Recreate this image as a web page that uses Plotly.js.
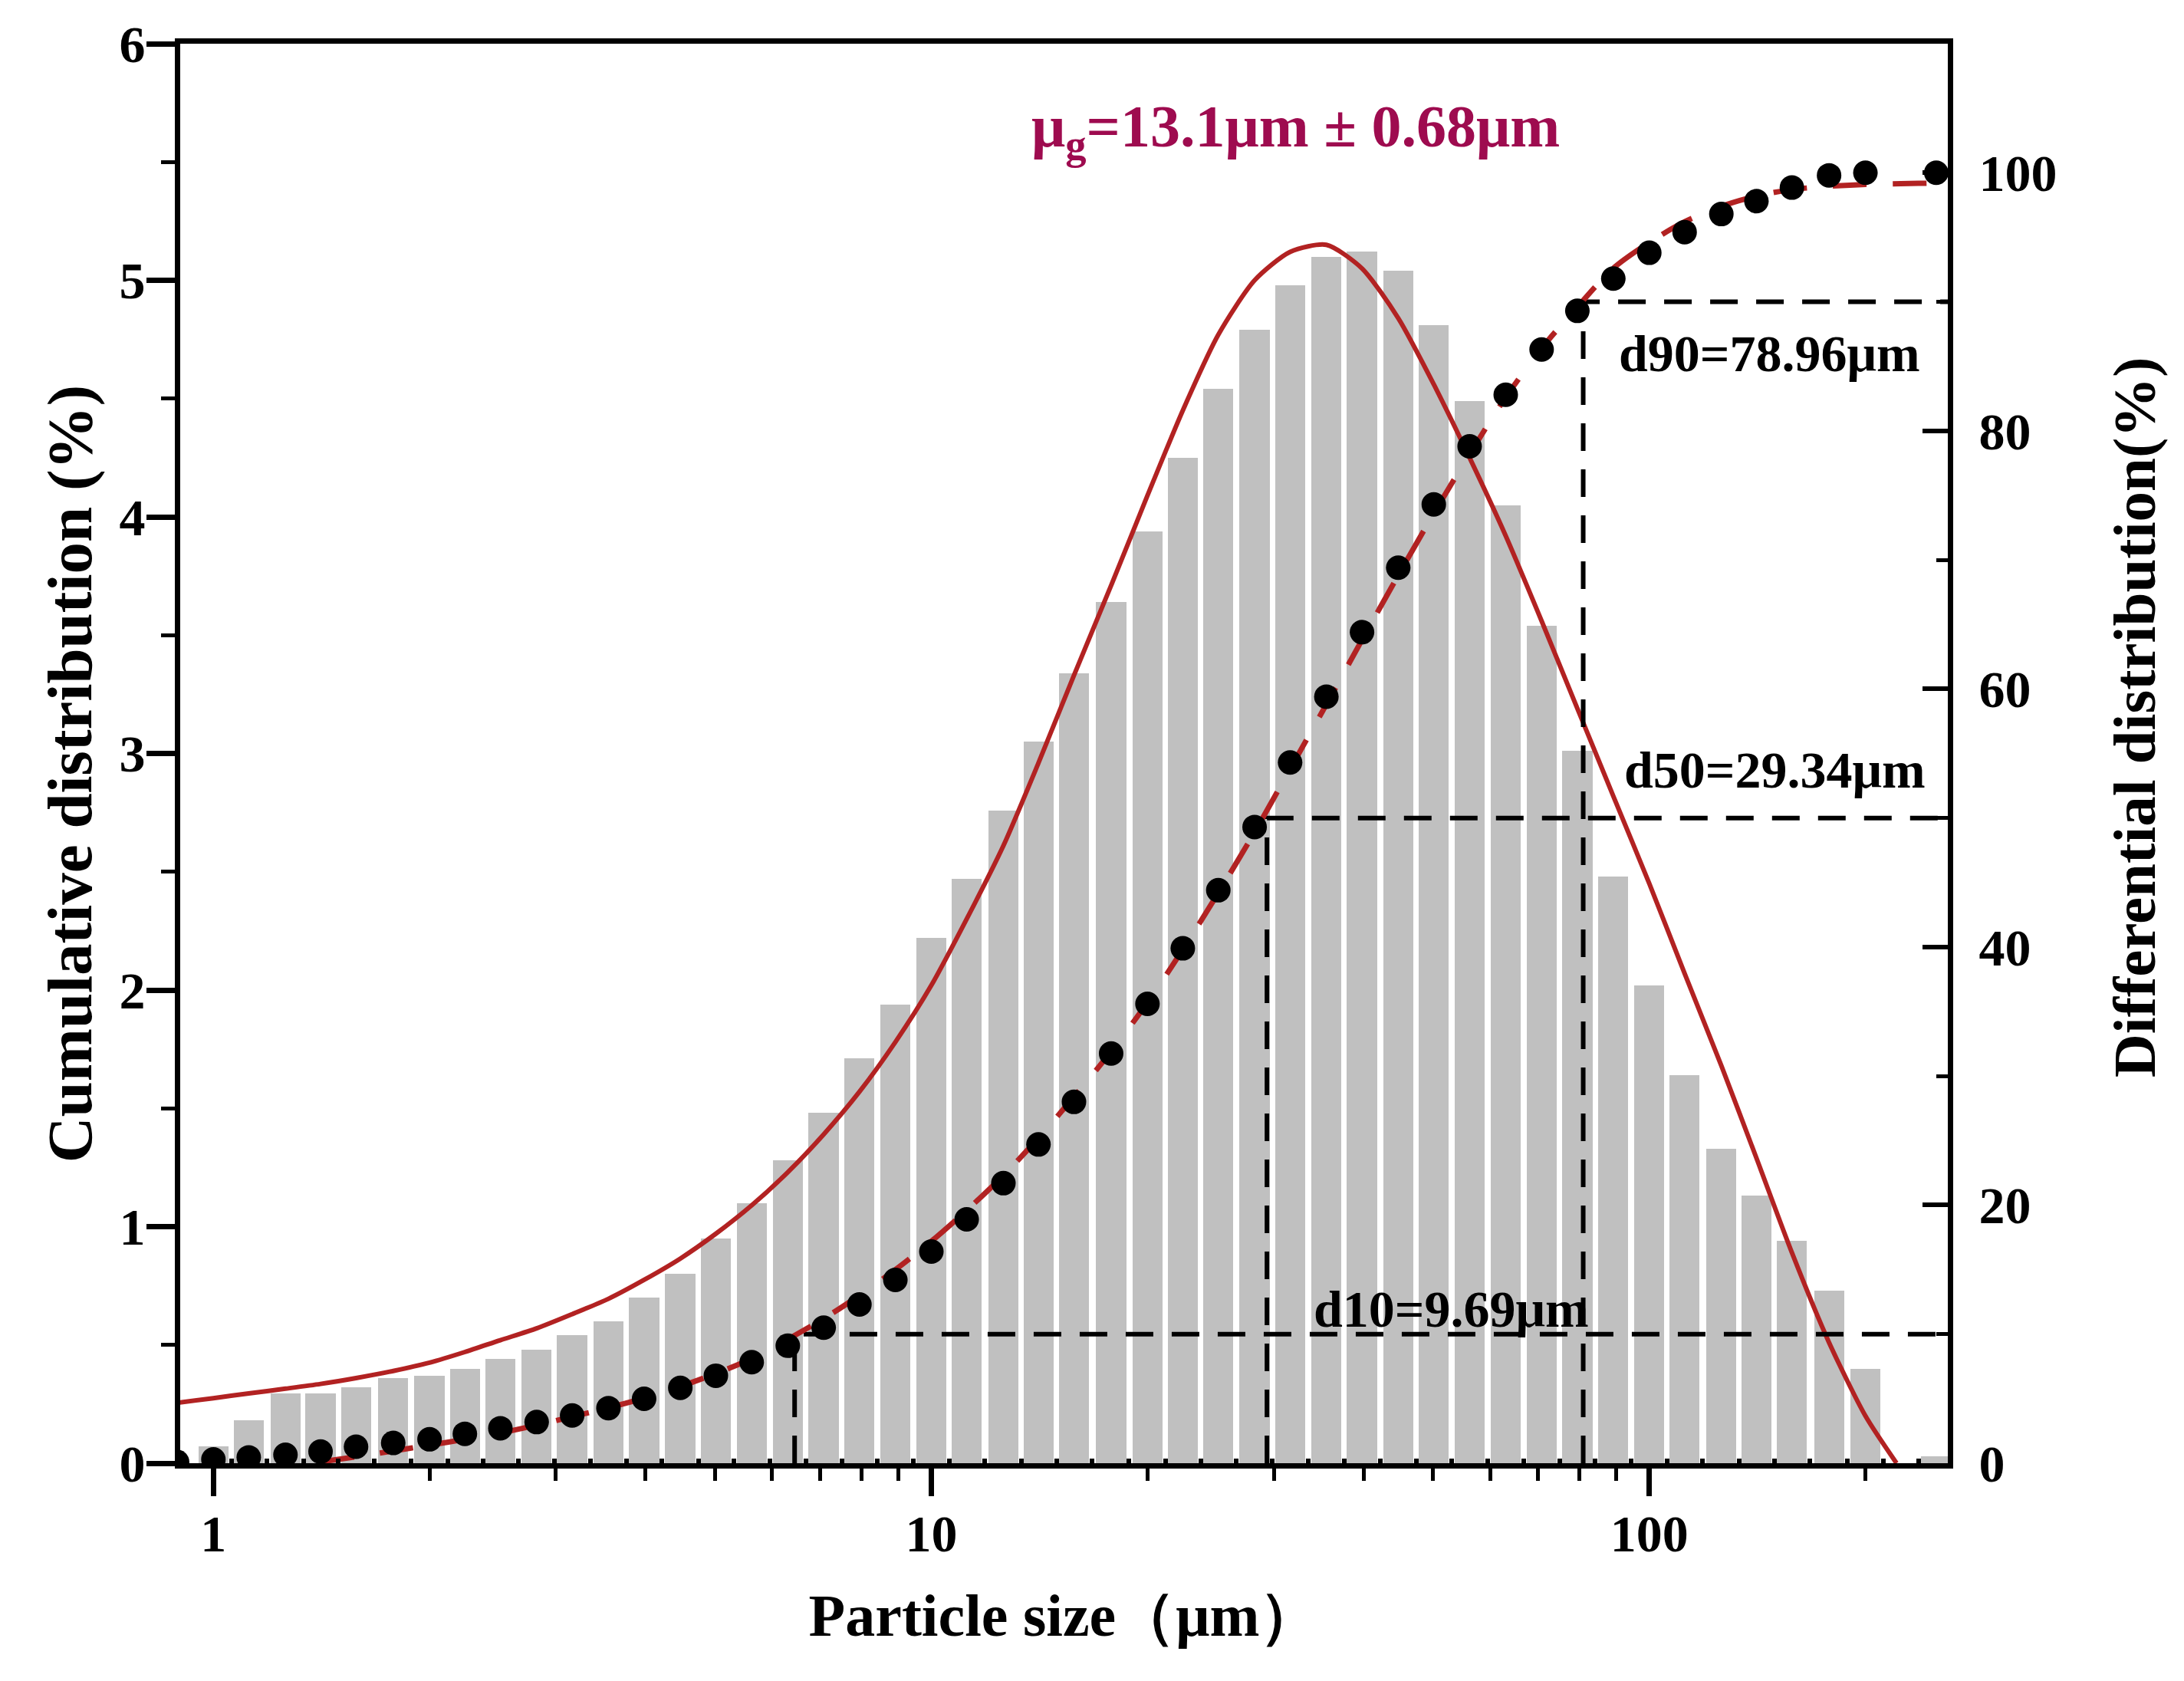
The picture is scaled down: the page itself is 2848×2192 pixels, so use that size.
<!DOCTYPE html>
<html>
<head>
<meta charset="utf-8">
<script src="https://cdn.plot.ly/plotly-3.0.1.min.js"></script>
<style>html,body{margin:0;padding:0;background:#fff;}#chart{width:2848px;height:2192px;}</style>
</head>
<body>
<div id="chart"></div>
<script>
// ---- data ----
// histogram bins (particle size, µm) and differential values (%)
const barSizes = [1.00,1.12,1.26,1.41,1.58,1.78,2.00,2.24,2.51,2.82,3.16,3.55,3.98,4.47,5.01,5.62,6.31,7.08,7.94,8.91,10.0,11.2,12.6,14.1,15.8,17.8,20.0,22.4,25.1,28.2,31.6,35.5,39.8,44.7,50.1,56.2,63.1,70.8,79.4,89.1,100,112,126,141,158,178,200,224,251];
const barValues = [0.07,0.18,0.295,0.295,0.32,0.36,0.37,0.40,0.44,0.48,0.54,0.60,0.70,0.80,0.95,1.10,1.28,1.48,1.71,1.94,2.22,2.47,2.76,3.05,3.34,3.64,3.94,4.25,4.54,4.79,4.98,5.10,5.12,5.04,4.81,4.49,4.05,3.54,3.01,2.48,2.02,1.64,1.33,1.13,0.94,0.73,0.40,0,0.03];

// cumulative points (%)
const cumSizes = [0.89,1.00,1.12,1.26,1.41,1.58,1.78,2.00,2.24,2.51,2.82,3.16,3.55,3.98,4.47,5.01,5.62,6.31,7.08,7.94,8.91,10.0,11.2,12.6,14.1,15.8,17.8,20.0,22.4,25.1,28.2,31.6,35.5,39.8,44.7,50.1,56.2,63.1,70.8,79.4,89.1,100,112,126,141,158,178,200,251];
const cumValues = [0.1,0.3,0.45,0.65,0.9,1.28,1.57,1.85,2.28,2.71,3.19,3.7,4.27,4.99,5.84,6.78,7.83,9.1,10.5,12.3,14.2,16.4,18.9,21.7,24.7,28.0,31.75,35.6,39.9,44.4,49.3,54.3,59.4,64.4,69.4,74.3,78.8,82.8,86.3,89.3,91.8,93.8,95.4,96.8,97.8,98.85,99.8,100.0,100.0];

// fitted cumulative curve (%)
const fitCumSizes = [1.41,1.58,1.78,2.00,2.24,2.51,2.82,3.16,3.55,3.98,4.47,5.01,5.62,6.31,7.08,7.94,8.91,10.0,11.2,12.6,14.1,15.8,17.8,20.0,22.4,25.1,28.2,31.6,35.5,39.8,44.7,50.1,56.2,63.1,70.8,79.4,89.1,100,112,126,141,158,178,200,224,251,282];
const fitCumValues = [0.1,0.5,0.95,1.4,1.85,2.35,2.95,3.6,4.3,5.05,5.95,6.95,8.1,9.6,11.2,13.0,15.0,17.2,19.6,22.3,25.2,28.4,31.9,35.7,39.8,44.2,48.9,53.8,58.8,63.8,68.8,73.6,78.2,82.6,86.4,89.6,92.6,94.6,96.2,97.4,98.2,98.7,98.95,99.1,99.15,99.2,99.2];

// fitted (log-normal) differential curve (%)
const fitDiffSizes = [0.89,1.00,1.12,1.26,1.41,1.58,1.78,2.00,2.24,2.51,2.82,3.16,3.55,3.98,4.47,5.01,5.62,6.31,7.08,7.94,8.91,10.0,11.2,12.6,14.1,15.8,17.8,20.0,22.4,25.1,28.2,31.6,35.5,39.8,44.7,50.1,56.2,63.1,70.8,79.4,89.1,100,112,126,141,158,178,200,221];
const fitDiffValues = [0.255,0.275,0.295,0.315,0.335,0.36,0.39,0.425,0.47,0.52,0.57,0.63,0.695,0.775,0.865,0.97,1.09,1.23,1.39,1.57,1.78,2.02,2.30,2.61,2.96,3.33,3.71,4.09,4.45,4.77,5.00,5.12,5.15,5.05,4.84,4.56,4.25,3.92,3.56,3.19,2.82,2.45,2.07,1.68,1.29,0.89,0.51,0.20,0];

// characteristic diameters: drawn line positions, levels and labels
const dLineSizes = [6.45, 29.34, 80.9];
const dLevels = [10, 50, 90];
const dLabels = ['d10=9.69μm', 'd50=29.34μm', 'd90=78.96μm'];

// axis ticks
const xMajorTicks = [1, 10, 100];
const xMajorText = ['1', '10', '100'];
const xMinorTicks = [2,3,4,5,6,7,8,9,20,30,40,50,60,70,80,90,200];
const xMin = 0.899, xMax = 260.5;

// ---- styling ----
const FONT = 'Liberation Serif, Times New Roman, serif';
const RED = '#B22222';
const logMin = Math.log10(xMin), logMax = Math.log10(xMax);
const barPos = barSizes.map(v => Math.log10(v));
const binHalf = 0.025; // half of a log bin

const traces = [];
// histogram on a hidden linear axis carrying log10 positions
traces.push({
  type: 'bar', x: barPos, y: barValues,
  xaxis: 'x', yaxis: 'y', width: 0.042,
  marker: {color: '#C0C0C0', line: {width: 0}}, hoverinfo: 'skip', showlegend: false
});
// fitted differential curve
traces.push({
  type: 'scatter', mode: 'lines', x: fitDiffSizes, y: fitDiffValues,
  xaxis: 'x2', yaxis: 'y', line: {color: RED, width: 6, shape: 'spline', smoothing: 0.7},
  showlegend: false
});
// reference dashed lines
for (let i = 0; i < dLineSizes.length; i++) {
  traces.push({
    type: 'scatter', mode: 'lines',
    x: [dLineSizes[i], dLineSizes[i], xMax], y: [0, dLevels[i], dLevels[i]],
    xaxis: 'x2', yaxis: 'y2', line: {color: '#000', width: 6, dash: '36px,24px'},
    showlegend: false
  });
}
// fitted cumulative curve
traces.push({
  type: 'scatter', mode: 'lines', x: fitCumSizes, y: fitCumValues,
  xaxis: 'x2', yaxis: 'y2', line: {color: RED, width: 7, dash: '44px,34px', shape: 'spline', smoothing: 0.8},
  showlegend: false
});
// cumulative points
traces.push({
  type: 'scatter', mode: 'markers', x: cumSizes, y: cumValues,
  xaxis: 'x2', yaxis: 'y2', marker: {color: '#000', size: 32},
  showlegend: false
});

const tickFont = {family: FONT, size: 68, color: '#000', weight: 700};
const titleFont = {family: FONT, size: 78, color: '#000', weight: 700};

const layout = {
  width: 2848, height: 2192,
  margin: {l: 235, r: 308, t: 57, b: 284},
  paper_bgcolor: '#fff', plot_bgcolor: '#fff',
  showlegend: false,
  bargap: 0,
  // hidden linear helper axis (log10 units); only its small inward bin marks are shown
  xaxis: {
    type: 'linear', range: [logMin, logMax], fixedrange: true,
    showline: false, showgrid: false, zeroline: false, showticklabels: false,
    tickmode: 'array', tickvals: barPos.map(v => v + binHalf),
    ticks: 'inside', ticklen: 6, tickwidth: 6, tickcolor: '#000'
  },
  xaxis2: {
    type: 'log', overlaying: 'x', anchor: 'y', side: 'bottom',
    range: [logMin, logMax],
    tickmode: 'array', tickvals: xMajorTicks, ticktext: xMajorText,
    ticks: 'outside', ticklen: 36, tickwidth: 7, tickcolor: '#000',
    ticklabelstandoff: -10,
    minor: {tickmode: 'array', tickvals: xMinorTicks, ticks: 'outside', ticklen: 16, tickwidth: 5, tickcolor: '#000', showgrid: false},
    showline: true, linewidth: 7, linecolor: '#000', mirror: true,
    showgrid: false, zeroline: false, tickfont: tickFont,
    title: {text: 'Particle size（μm）', font: titleFont, standoff: 44}
  },
  yaxis: {
    range: [0, 6], tickmode: 'linear', tick0: 0, dtick: 1,
    ticks: 'outside', ticklen: 37, tickwidth: 7, tickcolor: '#000',
    ticklabelstandoff: -12,
    minor: {dtick: 0.5, tick0: 0, ticks: 'outside', ticklen: 18, tickwidth: 5, tickcolor: '#000', showgrid: false},
    showline: true, linewidth: 7, linecolor: '#000',
    showgrid: false, zeroline: false, tickfont: tickFont
  },
  yaxis2: {
    overlaying: 'y', side: 'right', anchor: 'x2',
    range: [0, 110], tickmode: 'linear', tick0: 0, dtick: 20,
    ticks: 'inside', ticklen: 33, tickwidth: 6, tickcolor: '#000',
    ticklabelstandoff: 20,
    minor: {dtick: 10, tick0: 0, ticks: 'inside', ticklen: 15, tickwidth: 5, tickcolor: '#000', showgrid: false},
    showline: true, linewidth: 7, linecolor: '#000',
    showgrid: false, zeroline: false, tickfont: tickFont
  },
  annotations: [
    {xref: 'paper', yref: 'paper', x: -0.0625, y: 0.486, xanchor: 'center', yanchor: 'middle',
     textangle: -90, showarrow: false, text: 'Cumulative distribution (%)',
     font: {family: FONT, size: 83, color: '#000', weight: 700}},
    {xref: 'paper', yref: 'paper', x: 1.106, y: 0.5257, xanchor: 'center', yanchor: 'middle',
     textangle: -90, showarrow: false, text: 'Differential distribution(%)',
     font: {family: FONT, size: 79, color: '#000', weight: 700}},
    {xref: 'paper', yref: 'paper', x: 0.631, y: 0.939, xanchor: 'center', yanchor: 'middle', showarrow: false,
     text: 'μ<sub>g</sub>=13.1μm ± 0.68μm',
     font: {family: FONT, size: 78, color: '#9E0B4F', weight: 700}},
    {xref: 'paper', yref: 'paper', x: 0.719, y: 0.1086, xanchor: 'center', yanchor: 'middle', showarrow: false, text: dLabels[0],
     font: {family: FONT, size: 68, color: '#000', weight: 700}},
    {xref: 'paper', yref: 'paper', x: 0.902, y: 0.4886, xanchor: 'center', yanchor: 'middle', showarrow: false, text: dLabels[1],
     font: {family: FONT, size: 68, color: '#000', weight: 700}},
    {xref: 'paper', yref: 'paper', x: 0.899, y: 0.782, xanchor: 'center', yanchor: 'middle', showarrow: false, text: dLabels[2],
     font: {family: FONT, size: 68, color: '#000', weight: 700}}
  ]
};

Plotly.newPlot('chart', traces, layout, {displayModeBar: false, staticPlot: true});
</script>
</body>
</html>
